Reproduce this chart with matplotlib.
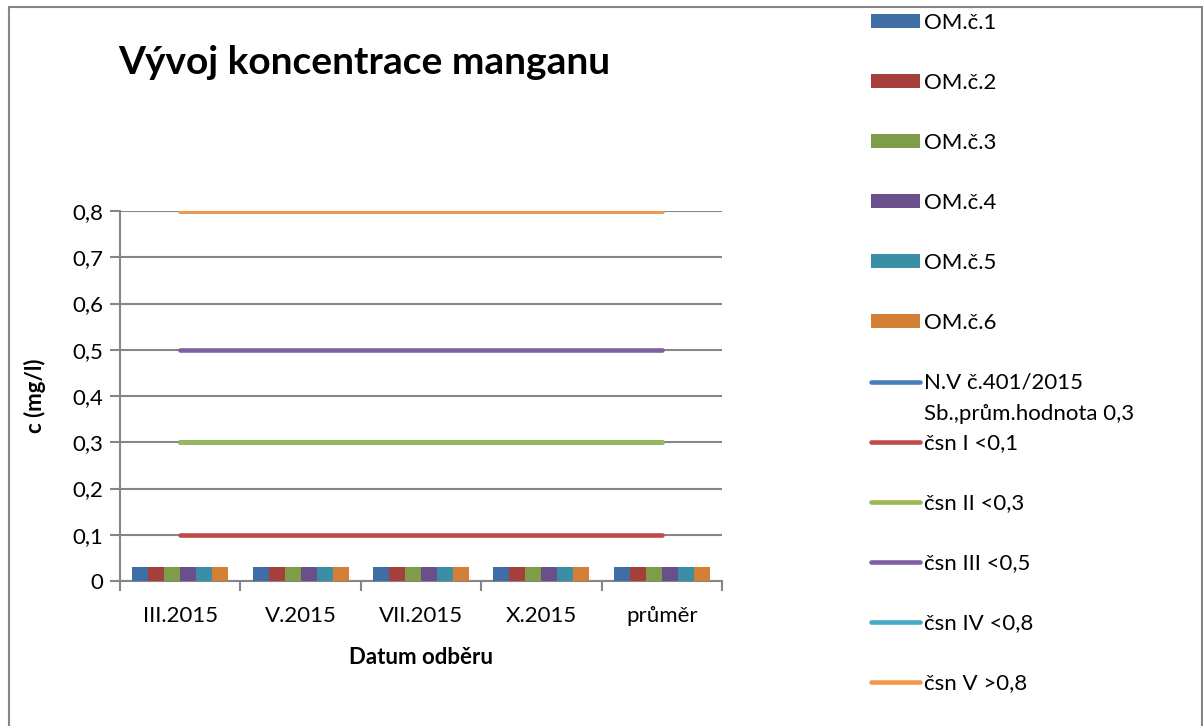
import matplotlib
matplotlib.use("Agg")
import matplotlib.pyplot as plt
from matplotlib.patches import Rectangle
import numpy as np

plt.rcParams['font.family'] = ['Lato', 'DejaVu Sans']

categories = ["III.2015", "V.2015", "VII.2015", "X.2015", "průměr"]
bar_series = ["OM.č.1", "OM.č.2", "OM.č.3", "OM.č.4", "OM.č.5", "OM.č.6"]
bar_values = [
    [0.03, 0.03, 0.03, 0.03, 0.03],
    [0.03, 0.03, 0.03, 0.03, 0.03],
    [0.03, 0.03, 0.03, 0.03, 0.03],
    [0.03, 0.03, 0.03, 0.03, 0.03],
    [0.03, 0.03, 0.03, 0.03, 0.03],
    [0.03, 0.03, 0.03, 0.03, 0.03],
]
line_series = ["N.V č.401/2015", "čsn I <0,1", "čsn II <0,3",
               "čsn III <0,5", "čsn IV <0,8", "čsn V >0,8"]
line_series_note = "Sb.,prům.hodnota 0,3"
line_values = [
    [0.3, 0.3, 0.3, 0.3, 0.3],
    [0.1, 0.1, 0.1, 0.1, 0.1],
    [0.3, 0.3, 0.3, 0.3, 0.3],
    [0.5, 0.5, 0.5, 0.5, 0.5],
    [0.8, 0.8, 0.8, 0.8, 0.8],
    [0.8, 0.8, 0.8, 0.8, 0.8],
]
y_ticks = [0, 0.1, 0.2, 0.3, 0.4, 0.5, 0.6, 0.7, 0.8]
y_ticklabels = ["0", "0,1", "0,2", "0,3", "0,4", "0,5", "0,6", "0,7", "0,8"]

bar_colors = ["#3f6ea6", "#a53f3c", "#7f9c48", "#6a508b", "#3a8fa7", "#d47f36"]
line_colors = ["#4a7ebb", "#be4b48", "#98b954", "#7d60a0", "#46aac5", "#f79646"]
grid_color = "#868686"

W, H = 1203, 726
fig = plt.figure(figsize=(W / 100, H / 100), dpi=100)
ax = fig.add_axes([120 / W, 1 - 581 / H, (722 - 120) / W, (581 - 211) / H])

x = np.arange(len(categories))
bw = 0.133
handles = []
for i, (name, vals) in enumerate(zip(bar_series, bar_values)):
    b = ax.bar(x + (i - 2.5) * bw, vals, width=bw, color=bar_colors[i],
               edgecolor="none", label=name, zorder=3)
    handles.append(b)
for i, (name, vals) in enumerate(zip(line_series, line_values)):
    ln, = ax.plot(x, vals, color=line_colors[i], lw=3.3, solid_capstyle="round",
                  label=name, zorder=4)
    handles.append(ln)

ax.set_xlim(-0.5, len(categories) - 0.5)
ax.set_ylim(0, 0.8)
ax.set_yticks(y_ticks)
ax.set_yticklabels(y_ticklabels, fontsize=16)
ax.set_xticks(x)
ax.set_xticklabels(categories, fontsize=16)
ax.set_xticks(np.arange(len(categories) + 1) - 0.5, minor=True)
ax.tick_params(axis="x", which="major", length=0, pad=18)
ax.tick_params(axis="x", which="minor", length=7, width=1.5, color=grid_color, direction="out")
ax.tick_params(axis="y", length=7, width=1.5, color=grid_color, direction="out", pad=5)
ax.yaxis.grid(True, color=grid_color, lw=1.5, zorder=0)
ax.set_axisbelow(True)
for s in ["top", "right"]:
    ax.spines[s].set_visible(False)
for s in ["left", "bottom"]:
    ax.spines[s].set_color(grid_color)
    ax.spines[s].set_linewidth(1.5)

ax.set_ylabel("c (mg/l)", fontsize=16, fontweight="bold", labelpad=19)
ax.set_xlabel("Datum odběru", fontsize=16, fontweight="bold", labelpad=15)

fig.text(118 / W, 1 - 63 / H, "Vývoj koncentrace manganu", fontsize=28,
         fontweight="bold", ha="left", va="center")

leg = fig.legend(handles=handles, loc="upper left", bbox_to_anchor=(862 / W, 1 - 4 / H),
                 frameon=False, fontsize=16, handlelength=2.2, handleheight=0.55,
                 handletextpad=0.2, labelspacing=1.8, borderaxespad=0)

# second line of the N.V legend label, placed under its first line
fig.canvas.draw()
t = leg.get_texts()[6]
bb = t.get_window_extent()
fig.text(bb.x0 / W, (bb.y0 - 11) / H, line_series_note, fontsize=16,
         ha="left", va="top")

fig.patches.append(Rectangle((8.5 / W, -0.02), (1201.5 - 8.5) / W, 1.02 - 7 / H,
                             transform=fig.transFigure, fill=False,
                             edgecolor=grid_color, lw=1.5))

fig.savefig("out.png", dpi=100)
